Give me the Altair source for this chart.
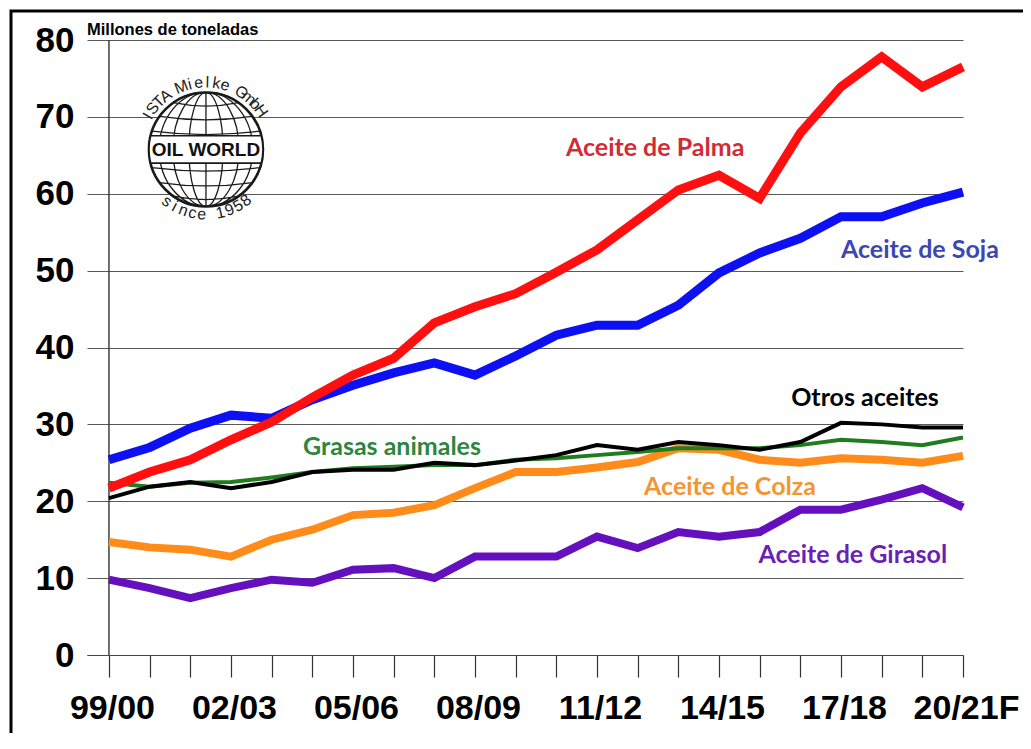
import json
import math
import altair as alt
import pandas as pd

# ---------------- data ----------------
seasons = ["99/00", "00/01", "01/02", "02/03", "03/04", "04/05", "05/06", "06/07",
           "07/08", "08/09", "09/10", "10/11", "11/12", "12/13", "13/14", "14/15",
           "15/16", "16/17", "17/18", "18/19", "19/20", "20/21F"]

palma = [21.7, 23.8, 25.4, 28.0, 30.3, 33.5, 36.4, 38.6, 43.2, 45.3, 47.0,
         49.8, 52.7, 56.6, 60.5, 62.4, 59.4, 67.9, 73.9, 77.8, 73.9, 76.5]
soja = [25.4, 27.0, 29.5, 31.2, 30.8, 33.2, 35.1, 36.7, 38.0, 36.4, 38.9,
        41.6, 42.9, 42.9, 45.5, 49.7, 52.3, 54.2, 57.0, 57.0, 58.8, 60.2]
grasas = [22.4, 21.9, 22.4, 22.5, 23.1, 23.8, 24.3, 24.5, 24.7, 24.7, 25.4,
          25.6, 26.0, 26.4, 26.9, 26.9, 26.9, 27.3, 28.0, 27.7, 27.3, 28.3]
otros = [20.4, 21.9, 22.5, 21.7, 22.5, 23.8, 24.1, 24.1, 25.0, 24.7, 25.3,
         26.0, 27.3, 26.7, 27.7, 27.3, 26.7, 27.7, 30.2, 30.0, 29.6, 29.6]
colza = [14.7, 14.0, 13.7, 12.8, 15.0, 16.3, 18.2, 18.5, 19.5, 21.7, 23.8,
         23.8, 24.4, 25.1, 26.9, 26.7, 25.4, 25.0, 25.6, 25.4, 25.0, 25.9]
girasol = [9.8, 8.7, 7.4, 8.7, 9.8, 9.4, 11.1, 11.3, 10.0, 12.8, 12.8,
           12.8, 15.4, 13.9, 16.0, 15.4, 16.0, 18.9, 18.9, 20.2, 21.7, 19.2]

series_names = ["Aceite de Girasol", "Aceite de Colza", "Grasas animales",
                "Otros aceites", "Aceite de Soja", "Aceite de Palma"]
series_values = [girasol, colza, grasas, otros, soja, palma]
line_colors = ["#6410bf", "#ff8c1a", "#1f7d1f", "#000000", "#0d10f2", "#ff0f0f"]
line_widths = [8, 8, 4, 4, 9, 9]

# in-chart series labels (position in season index / value units)
label_texts = ["Aceite de Palma", "Aceite de Soja", "Grasas animales",
               "Otros aceites", "Aceite de Colza", "Aceite de Girasol"]
label_i = [13.43, 19.94, 6.96, 18.59, 15.27, 18.29]
label_v = [66.0, 52.7, 27.0, 33.4, 21.85, 13.0]
label_colors = ["#d42a35", "#3c46b4", "#2e8540", "#000000", "#f39532", "#6a1fb5"]

y_ticks = [0, 10, 20, 30, 40, 50, 60, 70, 80]

# ---------------- layout ----------------
W, H = 876, 615
X_DOM = [-0.54, 21]
Y_DOM = [0, 80]
SX = W / (X_DOM[1] - X_DOM[0])  # px per season
SY = H / (Y_DOM[1] - Y_DOM[0])  # px per unit

AXFONT = "Liberation Sans"

x_enc = alt.X(
    "i:Q",
    scale=alt.Scale(domain=X_DOM, nice=False, zero=False),
    axis=alt.Axis(
        values=list(range(len(seasons))),
        labelExpr="(datum.value % 3 == 0) ? " + json.dumps(seasons) + "[datum.value] : ''",
        title=None, grid=False, ticks=True, tickSize=22, tickColor="#333333",
        tickWidth=1.2, domain=True, domainColor="#444444", domainWidth=1.2,
        labelFont=AXFONT, labelFontSize=34, labelFontWeight="bold",
        labelColor="#000000", labelPadding=14, labelOffset=3,
        labelOverlap=False, labelFlush=False, labelBound=False, labelAngle=0,
    ),
)
y_enc = alt.Y(
    "v:Q",
    scale=alt.Scale(domain=Y_DOM, nice=False, zero=True),
    axis=alt.Axis(
        values=y_ticks, title=None, grid=True, gridColor="#5a5a5a", gridWidth=1.2,
        ticks=False, domain=False, labelFont=AXFONT, labelFontSize=35,
        labelFontWeight="bold", labelColor="#000000", labelPadding=13,
    ),
)

layers = []

# outer frame (decoration)
frame = alt.Chart(pd.DataFrame({"a": [0]})).mark_rect(
    fill="white", fillOpacity=0, stroke="#000000", strokeWidth=3
).encode(x=alt.value(-76), x2=alt.value(1000), y=alt.value(-29), y2=alt.value(760))
layers.append(frame)

# y axis line at first season
yline = alt.Chart(pd.DataFrame({"i": [0, 0], "v": [0, 80]})).mark_line(
    color="#333333", strokeWidth=1.4
).encode(x=x_enc, y=y_enc)
layers.append(yline)

# ---------------- logo (decoration) ----------------
LOGO_I, LOGO_V, LOGO_R = 2.385, 65.76, 57

globe_parts = ["M-1,0A1,1,0,1,0,1,0A1,1,0,1,0,-1,0Z", "M0,-1L0,1"]
for rx in (0.3, 0.58, 0.82):
    globe_parts.append(f"M0,-1A{rx},1,0,0,0,0,1A{rx},1,0,0,0,0,-1")
for yy in (-0.82, -0.58, -0.32, 0.32, 0.58, 0.82):
    xx = math.sqrt(1 - yy * yy)
    globe_parts.append(f"M{-xx:.3f},{yy}Q0,{yy + 0.12:.3f},{xx:.3f},{yy}")
globe_path = "".join(globe_parts)
band_path = "M-0.97,-0.24L0.97,-0.24A1,1,0,0,1,0.97,0.24L-0.97,0.24A1,1,0,0,1,-0.97,-0.24Z"
logo_size = (2 * LOGO_R) ** 2

logo_df = pd.DataFrame({"i": [LOGO_I], "v": [LOGO_V], "t": ["OIL WORLD"]})
layers.append(alt.Chart(logo_df).mark_point(
    shape=globe_path, size=logo_size, filled=True, fill="white", stroke="#1a1a1a",
    strokeWidth=1.3, opacity=1).encode(x=x_enc, y=y_enc))
layers.append(alt.Chart(logo_df).mark_point(
    shape="circle", size=logo_size, filled=False, stroke="#1a1a1a",
    strokeWidth=2.6, opacity=1).encode(x=x_enc, y=y_enc))
layers.append(alt.Chart(logo_df).mark_point(
    shape=band_path, size=logo_size, filled=True, fill="white", stroke="#1a1a1a",
    strokeWidth=1.6, opacity=1).encode(x=x_enc, y=y_enc))
layers.append(alt.Chart(logo_df).mark_text(
    font=AXFONT, fontSize=19, fontWeight="bold", color="#111111",
    align="center", baseline="middle", dy=1).encode(x=x_enc, y=y_enc, text="t:N"))

top_txt = "ISTA Mielke GmbH"
bot_txt = "since 1958"
top_df = pd.DataFrame({"ch": list(top_txt), "k": list(range(len(top_txt)))})
bot_df = pd.DataFrame({"ch": list(bot_txt), "k": list(range(len(bot_txt)))})

R_TOP, R_BOT = 67, 65
top_arc = alt.Chart(top_df).transform_calculate(
    th=f"150 - datum.k * {115 / (len(top_txt) - 1)}"
).transform_calculate(
    i=f"{LOGO_I} + {R_TOP} * cos(datum.th * PI / 180) / {SX}",
    v=f"{LOGO_V} + {R_TOP} * sin(datum.th * PI / 180) / {SY}",
    ang="(450 - datum.th) % 360",
).mark_text(font=AXFONT, fontSize=16, color="#222222", align="center",
            baseline="middle").encode(
    x=x_enc, y=y_enc, text="ch:N", angle=alt.Angle("ang:Q", scale=None))
bot_arc = alt.Chart(bot_df).transform_calculate(
    ph=f"127 - datum.k * {75 / (len(bot_txt) - 1)}"
).transform_calculate(
    i=f"{LOGO_I} + {R_BOT} * cos(datum.ph * PI / 180) / {SX}",
    v=f"{LOGO_V} - {R_BOT} * sin(datum.ph * PI / 180) / {SY}",
    ang="(datum.ph - 90 + 360) % 360",
).mark_text(font=AXFONT, fontSize=16, color="#222222", align="center",
            baseline="middle").encode(
    x=x_enc, y=y_enc, text="ch:N", angle=alt.Angle("ang:Q", scale=None))
layers += [top_arc, bot_arc]

# ---------------- series lines ----------------
for name, vals, col, wdt in zip(series_names, series_values, line_colors, line_widths):
    df = pd.DataFrame({"i": list(range(len(seasons))), "v": vals,
                       "season": seasons, "serie": name})
    layers.append(alt.Chart(df).mark_line(color=col, strokeWidth=wdt).encode(
        x=x_enc, y=y_enc, tooltip=["serie:N", "season:N", "v:Q"]))

# ---------------- series labels ----------------
lab_df = pd.DataFrame({"i": label_i, "v": label_v, "t": label_texts, "c": label_colors})
layers.append(alt.Chart(lab_df).mark_text(
    font="Lato", fontSize=25, fontWeight="bold", align="center", baseline="middle"
).encode(x=x_enc, y=y_enc, text="t:N", color=alt.Color("c:N", scale=None)))

# unit note
layers.append(alt.Chart(pd.DataFrame({"t": ["Millones de toneladas"]})).mark_text(
    font=AXFONT, fontSize=16.5, fontWeight="bold", align="left",
    baseline="alphabetic", color="#000000"
).encode(x=alt.value(0), y=alt.value(-5), text="t:N"))

chart = alt.layer(*layers).properties(
    width=W, height=H,
    autosize=alt.AutoSizeParams(type="none"),
    padding={"left": 79, "top": 32, "right": 60, "bottom": 78},
    background="white",
).configure_view(stroke=None)

chart.save("out.html", embed_options={"renderer": "svg", "actions": False})
